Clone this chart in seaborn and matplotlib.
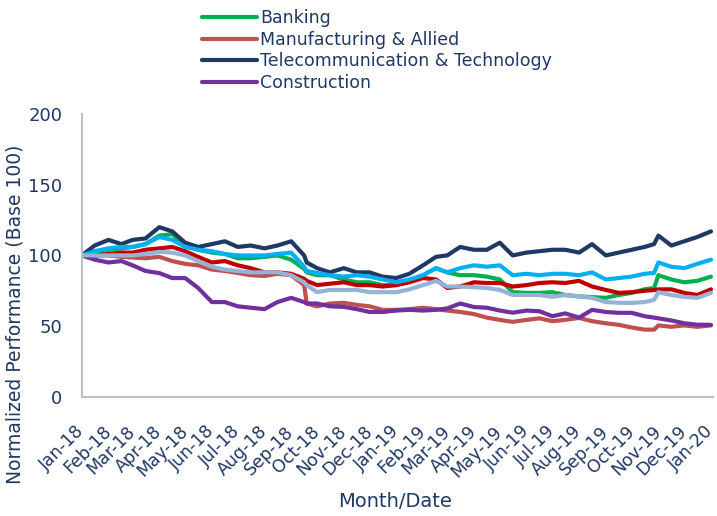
import matplotlib
matplotlib.use("Agg")
import matplotlib.pyplot as plt
import matplotlib.dates as mdates
from matplotlib.lines import Line2D
import pandas as pd
import seaborn as sns

# half-monthly readings, plus two extra dates around the big jumps
dates = [
    "2018-01-01", "2018-01-16", "2018-02-01", "2018-02-16", "2018-03-01", "2018-03-16",
    "2018-04-01", "2018-04-16", "2018-05-01", "2018-05-16", "2018-06-01", "2018-06-16",
    "2018-07-01", "2018-07-16", "2018-08-01", "2018-08-16", "2018-09-01", "2018-09-16",
    "2018-09-19", "2018-10-01", "2018-10-16", "2018-11-01", "2018-11-16", "2018-12-01",
    "2018-12-16", "2019-01-01", "2019-01-16", "2019-02-01", "2019-02-16", "2019-03-01",
    "2019-03-16", "2019-04-01", "2019-04-16", "2019-05-01", "2019-05-16", "2019-06-01",
    "2019-06-16", "2019-07-01", "2019-07-16", "2019-08-01", "2019-08-16", "2019-09-01",
    "2019-09-16", "2019-10-01", "2019-10-16", "2019-10-27", "2019-11-01", "2019-11-16",
    "2019-12-01", "2019-12-16", "2020-01-01",
]

banking = [100, 102, 104, 105, 106, 108, 114, 115, 107, 104, 102, 101, 98, 98, 99, 100, 97,
           90.5, 88, 86, 86, 83, 81, 81, 79, 79, 82, 86, 91, 88, 86, 86, 85, 83, 74, 73.5,
           73.5, 74, 72, 71, 70.5, 70, 72, 73.5, 76, 77, 86, 83, 81, 82, 85]
manufacturing = [100, 100, 100, 99, 98.5, 98, 99, 96, 94, 93, 90, 89, 87.6, 86, 85.5, 87, 86,
                 79, 66, 64, 66, 66.5, 65, 64, 61.5, 61.5, 62, 63, 62, 61, 60, 58.5, 56, 54.4,
                 53, 54.4, 55.5, 53.5, 54.4, 55.8, 53.5, 52, 50.9, 49, 47.5, 47.5, 50.5, 49.5,
                 50.5, 49.5, 50.5]
telecom = [100, 107, 111, 108, 111, 112, 120, 117, 109, 106, 108, 110, 106, 107, 105, 107, 110,
           100, 95, 91, 88, 91, 88, 88, 85, 84, 87, 93, 99, 100, 106, 104, 104, 109, 100, 102,
           103, 104, 104, 102, 108, 100, 102, 104, 106, 108, 114, 107, 110, 113, 117]
construction = [100, 97, 95, 96, 93, 89, 87.5, 84, 84, 77, 67, 67, 64, 63, 62, 67, 70,
                67, 66, 66, 64, 63.6, 62, 60, 60, 61, 61.5, 61, 61.5, 62.5, 66, 63.5, 63, 61,
                59.5, 61, 60.5, 57, 59, 56, 61.5, 60, 59.4, 59.4, 57, 56, 55.5, 54, 52, 51, 50.9]
# three more series are drawn but have no legend entry in the original
other_red = [100, 100, 101, 102, 102, 104, 105, 106, 103, 99, 95, 96, 93, 91, 88, 88, 87,
             83.5, 82, 79, 80, 81, 79, 79, 78, 79, 81, 84, 83, 77, 78, 81, 80.5, 80.5, 78, 79,
             80.5, 81, 80.5, 82, 78, 75.6, 73.5, 74, 75, 75.5, 76, 76, 73.5, 72, 76]
other_cyan = [100, 103, 105, 106, 106, 108, 113, 111, 106, 104, 103, 101, 100, 100, 100, 101, 102,
              92, 89, 87.6, 86, 85, 86, 85, 83, 81, 83, 86, 91, 88, 91, 93, 92, 93, 86, 87,
              86, 87, 87, 86, 88, 83, 84, 85, 87, 87.6, 95, 92, 91, 94, 97]
other_steel = [100, 100, 100, 100, 100, 101, 102.5, 102, 100, 96, 92, 90, 89, 88, 88, 88, 86,
               81, 79, 74, 75.6, 75.6, 75.6, 74, 74, 74, 76, 79, 82, 78, 78, 77.5, 77, 75.6,
               72, 72, 72, 70.7, 72, 71, 70, 67, 66.5, 66.4, 67, 68.6, 74, 72, 70.7, 70, 73.5]

legend_names = ["Banking", "Manufacturing & Allied", "Telecommunication & Technology", "Construction"]
colors = {
    "Banking": "#00B050",
    "Manufacturing & Allied": "#C0504D",
    "Telecommunication & Technology": "#1F3864",
    "Construction": "#7030A0",
    "Other A": "#C00000",
    "Other B": "#00B0F0",
    "Other C": "#95B3D7",
}

df = pd.DataFrame({
    "Date": pd.to_datetime(dates),
    "Banking": banking,
    "Manufacturing & Allied": manufacturing,
    "Telecommunication & Technology": telecom,
    "Construction": construction,
    "Other A": other_red,
    "Other B": other_cyan,
    "Other C": other_steel,
})
long = df.melt(id_vars="Date", var_name="Series", value_name="Value")

sns.set_style("white")
plt.rcParams["font.family"] = ["DejaVu Sans"]
text_color = "#1F3864"
axis_gray = "#BFBFBF"

fig, ax = plt.subplots(figsize=(7.17, 5.16), dpi=100)
fig.subplots_adjust(left=0.114, right=0.994, bottom=0.231, top=0.779)

sns.lineplot(data=long, x="Date", y="Value", hue="Series", hue_order=list(colors.keys()),
             palette=colors, linewidth=3, legend=False, ax=ax)

ax.set_ylim(0, 200)
ax.set_yticks(range(0, 201, 50))
ax.set_xlim(pd.Timestamp("2018-01-01"), pd.Timestamp("2020-01-03"))
ax.xaxis.set_major_locator(mdates.MonthLocator())
ax.xaxis.set_major_formatter(mdates.DateFormatter("%b-%y"))
plt.setp(ax.get_xticklabels(), rotation=45, ha="right", va="center", rotation_mode="anchor")

sns.despine(ax=ax)
for side in ["left", "bottom"]:
    ax.spines[side].set_color(axis_gray)
    ax.spines[side].set_linewidth(1.5)
ax.tick_params(axis="both", direction="out", length=4, width=1.2, color=axis_gray,
               labelcolor=text_color)
ax.tick_params(axis="y", labelsize=13, pad=10)
ax.tick_params(axis="x", labelsize=12.5, pad=19)

ax.set_xlabel("Month/Date", fontsize=14, color=text_color)
ax.set_ylabel("Normalized Performance (Base 100)", fontsize=13.5, color=text_color)
ax.xaxis.set_label_coords(0.496, -0.335)
ax.yaxis.set_label_coords(-0.090, 0.29)

handles = [Line2D([], [], color=colors[n], lw=3) for n in legend_names]
fig.legend(handles, legend_names, loc="upper left", bbox_to_anchor=(0.282, 0.982),
           frameon=False, fontsize=12.5, labelcolor=text_color, handlelength=3.16,
           handletextpad=0.17, labelspacing=0.2, borderaxespad=0, borderpad=0)

fig.savefig("out.png", dpi=100)
